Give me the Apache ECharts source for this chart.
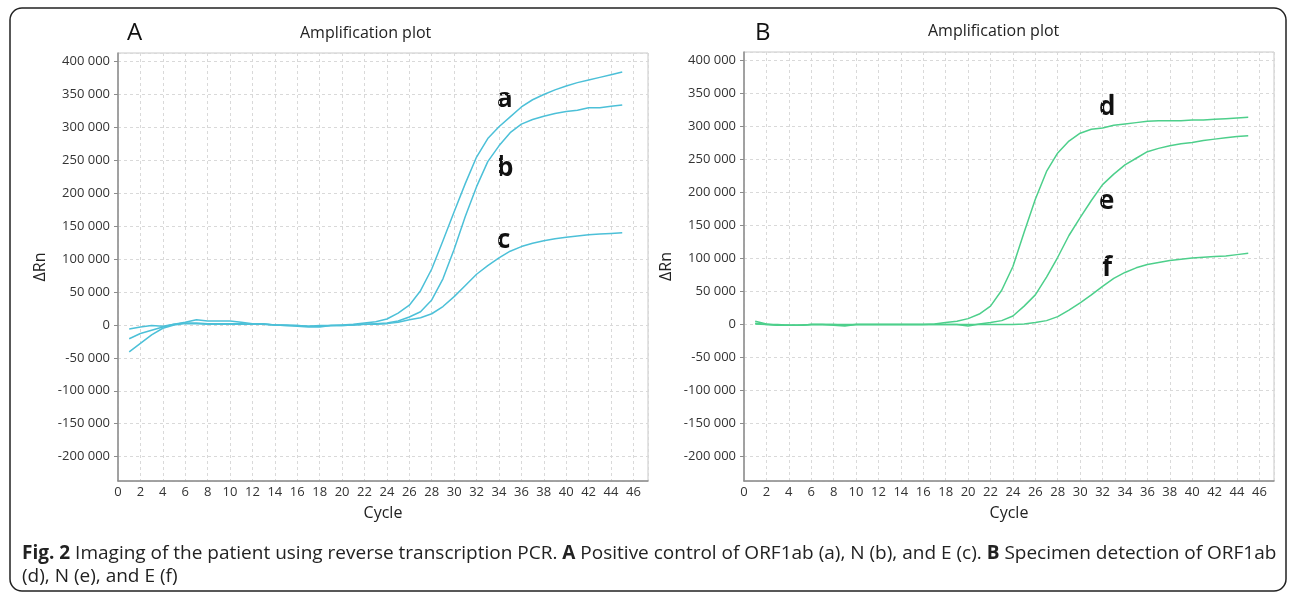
<!DOCTYPE html>
<html>
<head>
<meta charset="utf-8">
<script src="https://cdn.jsdelivr.net/npm/echarts@6/dist/echarts.min.js"></script>
<style>
  html, body { margin: 0; padding: 0; background: #fff; }
  #chart { width: 1292px; height: 595px; }
</style>
</head>
<body>
<div id="chart"></div>
<script>
// cycle numbers 1..45
const cycles = [1,2,3,4,5,6,7,8,9,10,11,12,13,14,15,16,17,18,19,20,21,22,23,24,25,26,27,28,29,30,31,32,33,34,35,36,37,38,39,40,41,42,43,44,45]

// panel A: positive control
const curveA = [-6000,-3000,-1000,-2000,1000,3000,3000,2000,2000,2000,2000,1000,1000,0,-1000,-1000,-2000,-1000,-1000,0,1000,3000,5000,9000,18000,30000,52000,85000,128000,172000,215000,255000,283000,301000,316000,331000,342000,350000,357000,363000,368000,372000,376000,380000,384000]
const curveB = [-21000,-13000,-8000,-3000,1000,4000,8000,6000,6000,6000,4000,2000,2000,0,-1000,-2000,-3000,-3000,-1000,-1000,0,1000,2000,3000,6000,12000,20000,38000,70000,115000,165000,210000,248000,272000,292000,305000,312000,317000,321000,324000,326000,330000,330000,332000,334000]
const curveC = [-41000,-28000,-15000,-5000,0,2000,2000,1000,1000,1000,1000,1000,1000,0,0,-1000,-2000,-2000,-1000,-1000,0,1000,1000,2000,4000,8000,11000,17000,28000,43000,60000,77000,90000,102000,112000,119000,124000,128000,131000,133000,135000,137000,138000,139000,140000]

// panel B: specimen
const curveD = [5000,1000,-1000,-1000,-1000,0,0,0,-1000,0,0,0,0,0,0,0,1000,3000,5000,9000,16000,28000,52000,88000,140000,190000,232000,260000,278000,290000,296000,298000,302000,304000,306000,308000,309000,309000,309000,310000,310000,311000,312000,313000,314000]
const curveE = [1000,0,-1000,-1000,-1000,0,0,-1000,-2000,0,0,0,0,0,0,0,0,0,0,-2000,1000,3000,6000,13000,28000,45000,72000,102000,135000,162000,188000,212000,228000,242000,252000,262000,267000,271000,274000,276000,279000,281000,283000,285000,286000]
const curveF = [2000,0,0,-1000,-1000,0,0,0,0,0,0,0,0,0,0,0,0,0,0,0,0,0,0,0,1000,3000,6000,12000,22000,33000,45000,58000,70000,79000,86000,91000,94000,97000,99000,101000,102000,103000,104000,106000,108000]

const colorA = '#4cc0d8'
const colorB = '#4dcf8b'
const font = 'Open Sans'

const fmt = v => String(v).replace(/\B(?=(\d{3})+(?!\d))/g, ' ')
const pairs = ys => cycles.map((c, i) => [c, ys[i]])

function xAxis(idx) {
  return {
    type: 'value', gridIndex: idx, min: 0, max: 47.3, interval: 2,
    name: 'Cycle', nameLocation: 'middle', nameGap: 24,
    nameTextStyle: { fontFamily: font, fontSize: 16, color: '#222' },
    axisLine: { onZero: false, lineStyle: { color: '#8c8c8c', width: 1.5 } },
    axisTick: { show: false },
    axisLabel: { fontFamily: font, fontSize: 13, color: '#333', margin: 5, showMaxLabel: false },
    splitLine: { lineStyle: { color: '#d9d9d9', type: [3, 3] } },
  }
}

function yAxis(idx) {
  return {
    type: 'value', gridIndex: idx, min: -237000, max: 413000,
    splitNumber: 13, minInterval: 50000, maxInterval: 50000,
    name: 'ΔRn', nameLocation: 'middle', nameGap: 70, nameRotate: 90,
    nameTextStyle: { fontFamily: font, fontSize: 16, color: '#222' },
    axisLine: { show: true, onZero: false, lineStyle: { color: '#8c8c8c', width: 1.5 } },
    axisTick: { show: true, length: 4, lineStyle: { color: '#8c8c8c' } },
    axisLabel: { fontFamily: font, fontSize: 13, color: '#333', margin: 8, formatter: fmt, showMinLabel: false, showMaxLabel: false },
    splitLine: { lineStyle: { color: '#d9d9d9', type: [3, 3] } },
  }
}

function line(ys, color, idx) {
  return {
    type: 'line', xAxisIndex: idx, yAxisIndex: idx, data: pairs(ys),
    showSymbol: false, silent: true,
    lineStyle: { color, width: 1.5 },
  }
}

function letter(t, x, y) {
  return { type: 'text', left: x, top: y, style: { text: t, font: `bold 26px "${font}"`, fill: '#111' } }
}

const chart = echarts.init(document.getElementById('chart'))
chart.setOption({
  animation: false,
  grid: [
    { left: 118, top: 53, width: 530, height: 428, show: true, borderColor: '#c8c8c8', borderWidth: 1 },
    { left: 744, top: 52, width: 530, height: 429, show: true, borderColor: '#c8c8c8', borderWidth: 1 },
  ],
  xAxis: [xAxis(0), xAxis(1)],
  yAxis: [yAxis(0), yAxis(1)],
  series: [
    line(curveA, colorA, 0), line(curveB, colorA, 0), line(curveC, colorA, 0),
    line(curveD, colorB, 1), line(curveE, colorB, 1), line(curveF, colorB, 1),
  ],
  graphic: [
    { type: 'rect', shape: { x: 10, y: 8, width: 1276, height: 583, r: 12 }, style: { fill: 'none', stroke: '#222', lineWidth: 1.5 }, z: -10 },
    { type: 'text', left: 127, top: 21, style: { text: 'A', font: `24px "${font}"`, fill: '#111' } },
    { type: 'text', left: 300, top: 25, style: { text: 'Amplification plot', font: `16px "${font}"`, fill: '#222' } },
    { type: 'text', left: 755, top: 21, style: { text: 'B', font: `24px "${font}"`, fill: '#111' } },
    { type: 'text', left: 928, top: 23, style: { text: 'Amplification plot', font: `16px "${font}"`, fill: '#222' } },
    letter('a', 497, 87), letter('b', 497, 156), letter('c', 497, 228),
    letter('d', 1099, 95), letter('e', 1099, 189), letter('f', 1102, 256),
    {
      type: 'text', left: 22, top: 542,
      style: {
        text: '{b|Fig. 2} Imaging of the patient using reverse transcription PCR. {b|A} Positive control of ORF1ab (a), N (b), and E (c). {b|B} Specimen detection of ORF1ab\n(d), N (e), and E (f)',
        font: `19px "${font}"`, fill: '#222', lineHeight: 23,
        rich: { b: { fontWeight: 'bold', fontFamily: font, fontSize: 19, fill: '#222' } },
      },
    },
  ],
})
</script>
</body>
</html>
